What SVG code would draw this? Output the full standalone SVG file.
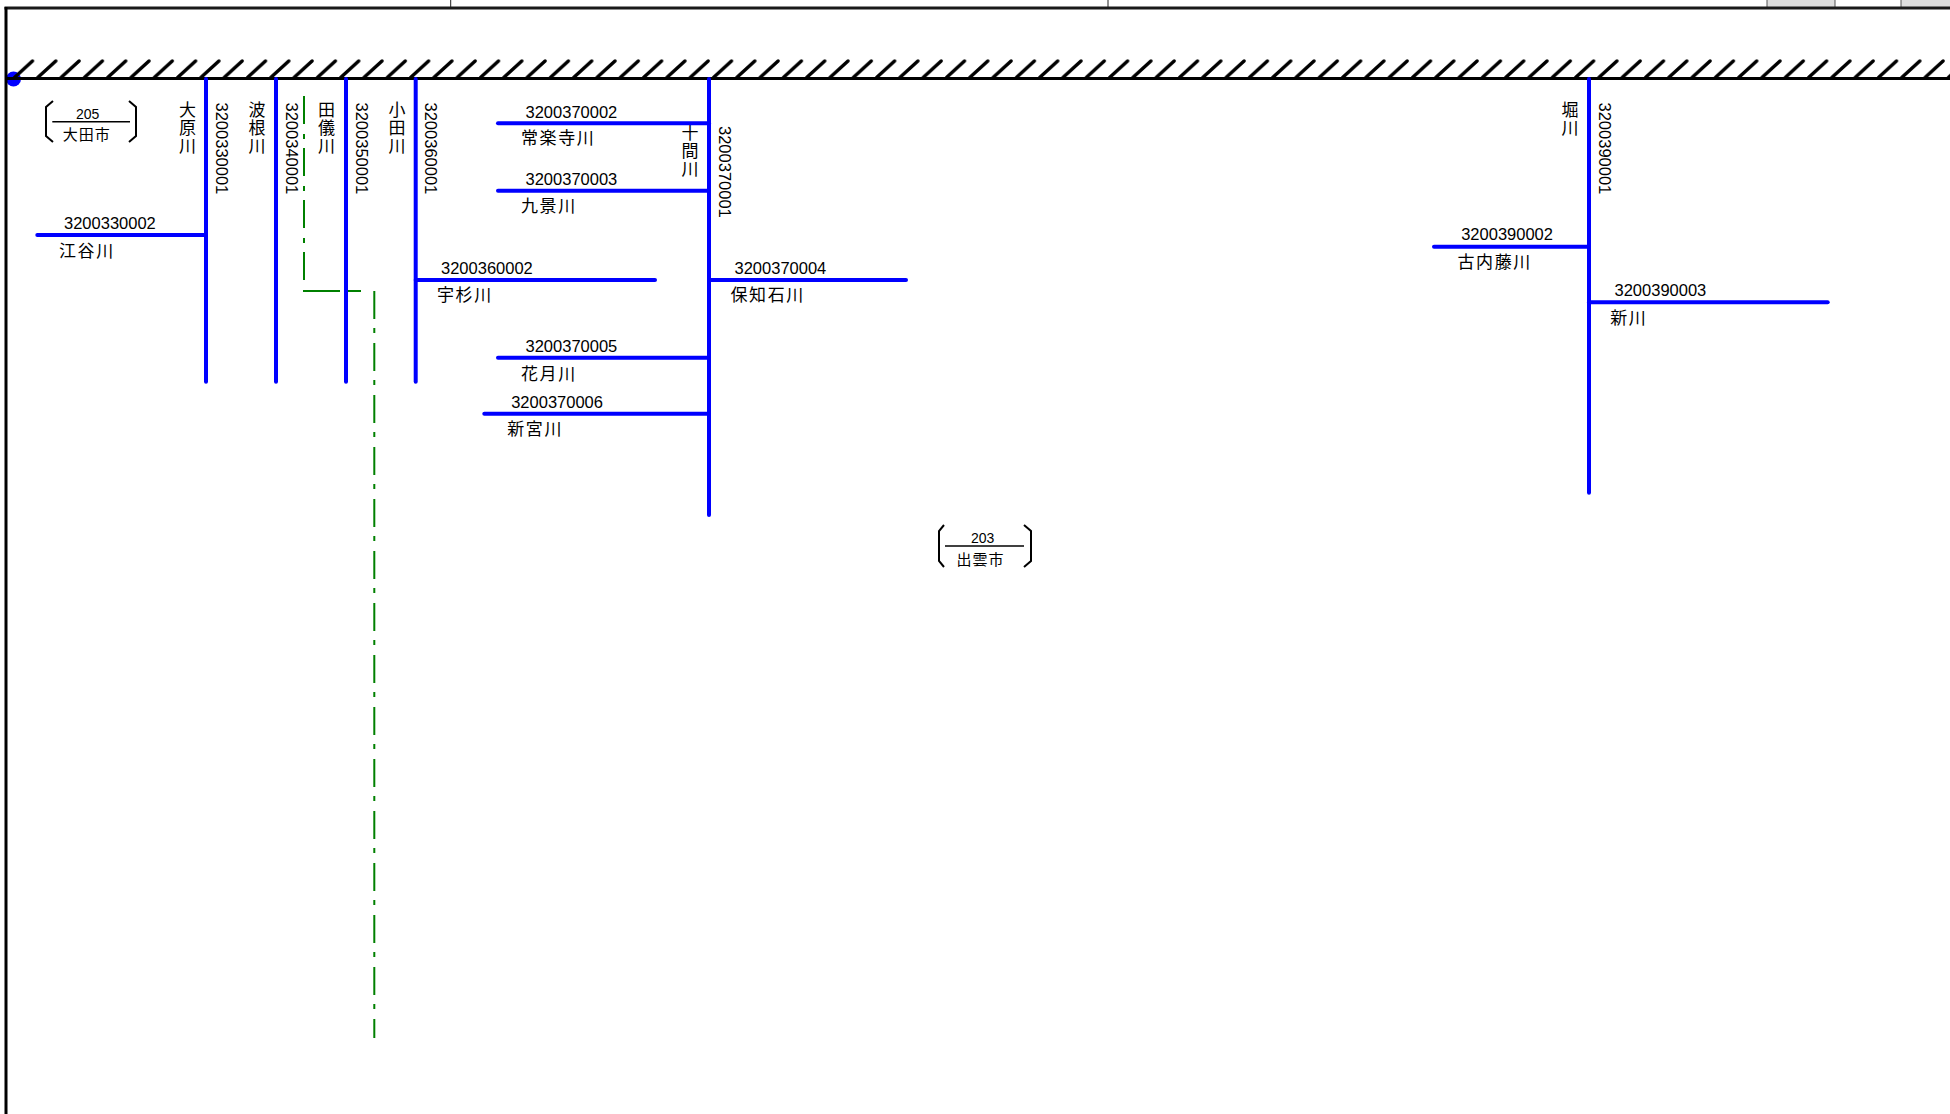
<svg xmlns="http://www.w3.org/2000/svg" width="1950" height="1114" viewBox="0 0 1950 1114">
<defs>
<style>
.num{font-family:"Liberation Sans","Noto Sans CJK JP",sans-serif;font-size:16.5px;fill:#000}
.jp{font-family:"Noto Sans CJK JP",sans-serif;font-size:17px;letter-spacing:1.6px;fill:#000}
.vjp{font-family:"Noto Sans CJK JP",sans-serif;font-size:17px;letter-spacing:0.9px;writing-mode:vertical-rl;fill:#000}
.river{stroke:#0000ff;stroke-width:4;stroke-linecap:round;fill:none}
.bnd{stroke:#008000;stroke-width:2;fill:none}
.brk{stroke:#000;stroke-width:2;fill:none}
.city{font-family:"Noto Sans CJK JP",sans-serif;font-size:15px;letter-spacing:1px;fill:#000;text-anchor:middle}
.code{font-family:"Liberation Sans",sans-serif;font-size:14px;fill:#000;text-anchor:middle}
</style>
<pattern id="hatch" patternUnits="userSpaceOnUse" x="12" y="0" width="23.3" height="90">
<line x1="2.5" y1="77.5" x2="20.5" y2="61" stroke="#000" stroke-width="3.4" stroke-linecap="round"/>
</pattern>
</defs>
<rect width="1950" height="1114" fill="#fff"/>

<!-- top strip -->
<g id="frame">
<rect x="1767" y="0" width="68" height="8" fill="#dedede"/>
<rect x="1901" y="0" width="49" height="8" fill="#dedede"/>
<line x1="450.7" y1="0" x2="450.7" y2="8" stroke="#222" stroke-width="1"/>
<line x1="1108" y1="0" x2="1108" y2="8" stroke="#222" stroke-width="1"/>
<line x1="1767" y1="0" x2="1767" y2="8" stroke="#555" stroke-width="1"/>
<line x1="1835" y1="0" x2="1835" y2="8" stroke="#555" stroke-width="1"/>
<line x1="1901" y1="0" x2="1901" y2="8" stroke="#555" stroke-width="1"/>
<line x1="4.5" y1="8" x2="1950" y2="8" stroke="#1a1a1a" stroke-width="3"/>
<circle cx="13.5" cy="79" r="7.5" fill="#0000ff"/>
<line x1="6" y1="7" x2="6" y2="1114" stroke="#000" stroke-width="3"/>
<rect x="12" y="57" width="1938" height="22" fill="url(#hatch)"/>
<line x1="6" y1="78.5" x2="1950" y2="78.5" stroke="#000" stroke-width="3"/>
</g>

<!-- city labels -->
<g id="city205">
<path class="brk" d="M53,101 L46,107 L46,136 L53,142"/>
<path class="brk" d="M129,101 L136,107 L136,136 L129,142"/>
<text class="code" x="87.7" y="119.3">205</text>
<line x1="52.3" y1="121.7" x2="130" y2="121.7" stroke="#000" stroke-width="1.5"/>
<text class="city" x="86.8" y="139.5">大田市</text>
</g>
<g id="city203">
<path class="brk" d="M944,525 L939,531 L939,561 L944,567"/>
<path class="brk" d="M1024,525 L1031,531 L1031,561 L1024,567"/>
<text class="code" x="982.7" y="543.3">203</text>
<line x1="945" y1="546" x2="1024" y2="546" stroke="#000" stroke-width="1.5"/>
<text class="city" x="980.5" y="565">出雲市</text>
</g>

<!-- municipal boundary (green dash-dot) -->
<g id="boundary">
<path class="bnd" d="M304,280 V89" stroke-dasharray="28 9 5 10"/>
<line class="bnd" x1="303" y1="291" x2="340" y2="291"/>
<line class="bnd" x1="348" y1="291" x2="361" y2="291"/>
<path class="bnd" d="M374.3,291 V1038" stroke-dasharray="28 9 5 10"/>
</g>

<!-- rivers -->
<g id="connectors">
<g id="r3200330001">
<line class="river" x1="206" y1="79" x2="206" y2="381.7"/>
<text class="vjp" x="187.5" y="101">大原川</text>
<text class="num" transform="translate(216,102.5) rotate(90)">3200330001</text>
</g>
<g id="r3200330002">
<line class="river" x1="37.3" y1="235" x2="206" y2="235"/>
<text class="num" x="64" y="229">3200330002</text>
<text class="jp" x="59" y="256.5">江谷川</text>
</g>
<g id="r3200340001">
<line class="river" x1="276" y1="79" x2="276" y2="381.7"/>
<text class="vjp" x="257" y="101">波根川</text>
<text class="num" transform="translate(285.8,102.5) rotate(90)">3200340001</text>
</g>
<g id="r3200350001">
<line class="river" x1="346" y1="79" x2="346" y2="381.7"/>
<text class="vjp" x="326.5" y="101">田儀川</text>
<text class="num" transform="translate(355.8,102.5) rotate(90)">3200350001</text>
</g>
<g id="r3200360001">
<line class="river" x1="415.7" y1="79" x2="415.7" y2="381.7"/>
<text class="vjp" x="397" y="101">小田川</text>
<text class="num" transform="translate(425,102.5) rotate(90)">3200360001</text>
</g>
<g id="r3200360002">
<line class="river" x1="415.7" y1="280" x2="655" y2="280"/>
<text class="num" x="441" y="274">3200360002</text>
<text class="jp" x="437" y="301">宇杉川</text>
</g>
<g id="r3200370001">
<line class="river" x1="709" y1="79" x2="709" y2="515"/>
<text class="vjp" x="690" y="124">十間川</text>
<text class="num" transform="translate(719,126) rotate(90)">3200370001</text>
</g>
<g id="r3200370002">
<line class="river" x1="498" y1="123.3" x2="709" y2="123.3"/>
<text class="num" x="525.5" y="118.3">3200370002</text>
<text class="jp" x="521" y="144">常楽寺川</text>
</g>
<g id="r3200370003">
<line class="river" x1="498" y1="190.7" x2="709" y2="190.7"/>
<text class="num" x="525.5" y="185">3200370003</text>
<text class="jp" x="521" y="212">九景川</text>
</g>
<g id="r3200370004">
<line class="river" x1="709" y1="280" x2="906" y2="280"/>
<text class="num" x="734.5" y="274">3200370004</text>
<text class="jp" x="730.5" y="301">保知石川</text>
</g>
<g id="r3200370005">
<line class="river" x1="498" y1="357.7" x2="709" y2="357.7"/>
<text class="num" x="525.5" y="351.7">3200370005</text>
<text class="jp" x="521" y="379.5">花月川</text>
</g>
<g id="r3200370006">
<line class="river" x1="484.3" y1="413.7" x2="709" y2="413.7"/>
<text class="num" x="511.2" y="408.3">3200370006</text>
<text class="jp" x="507.2" y="435">新宮川</text>
</g>
<g id="r3200390001">
<line class="river" x1="1589" y1="79" x2="1589" y2="492.7"/>
<text class="vjp" x="1570" y="101">堀川</text>
<text class="num" transform="translate(1599,102.5) rotate(90)">3200390001</text>
</g>
<g id="r3200390002">
<line class="river" x1="1434" y1="246.7" x2="1589" y2="246.7"/>
<text class="num" x="1461.2" y="240">3200390002</text>
<text class="jp" x="1457.5" y="267.5">古内藤川</text>
</g>
<g id="r3200390003">
<line class="river" x1="1589" y1="302.3" x2="1827.7" y2="302.3"/>
<text class="num" x="1614.5" y="296">3200390003</text>
<text class="jp" x="1610.2" y="323.5">新川</text>
</g>
</g>
</svg>
